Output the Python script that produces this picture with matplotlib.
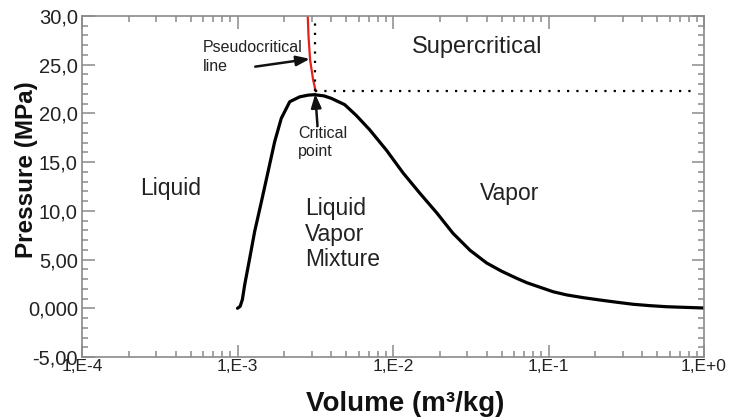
import matplotlib
matplotlib.use("Agg")
import matplotlib.pyplot as plt
from matplotlib.ticker import FixedLocator, MultipleLocator, LogLocator, NullFormatter

plt.rcParams['font.family'] = ['Liberation Sans', 'DejaVu Sans']

# saturation dome, liquid branch (m3/kg, MPa)
v_liq = [1.00e-3, 1.04e-3, 1.075e-3, 1.112e-3, 1.197e-3, 1.290e-3, 1.423e-3, 1.571e-3,
         1.734e-3, 1.913e-3, 2.167e-3, 2.51e-3, 2.85e-3, 3.13e-3]
p_liq = [0.0, 0.2, 0.9, 2.4, 5.1, 7.9, 10.9, 14.0, 17.1, 19.5, 21.2, 21.7, 21.88, 21.92]
# vapor branch
v_vap = [3.13e-3, 3.6e-3, 4.01e-3, 4.89e-3, 5.80e-3, 7.1e-3, 9.1e-3, 0.0116, 0.0149,
         0.0191, 0.0243, 0.0313, 0.040, 0.050, 0.0624, 0.0724, 0.0882, 0.107, 0.131,
         0.1675, 0.214, 0.275, 0.351, 0.449, 0.575, 0.737, 1.0]
p_vap = [21.92, 21.8, 21.55, 20.9, 19.8, 18.3, 16.2, 13.9, 11.8, 9.8, 7.7, 5.95,
         4.65, 3.8, 3.08, 2.63, 2.16, 1.70, 1.37, 1.09, 0.85, 0.62, 0.41, 0.27,
         0.16, 0.10, 0.03]
# pseudocritical line
v_pc = [3.18e-3, 3.06e-3, 2.93e-3, 2.86e-3, 2.83e-3]
p_pc = [22.3, 23.5, 25.5, 28.0, 30.0]
# dotted guide lines
v_hline = [3.16e-3, 0.875]
p_hline = [22.3, 22.3]
v_vline = [3.16e-3, 3.16e-3]
p_vline = [22.3, 29.5]

x_ticks = [1e-4, 1e-3, 1e-2, 1e-1, 1e0]
x_labels = ["1,E-4", "1,E-3", "1,E-2", "1,E-1", "1,E+0"]
y_ticks = [-5, 0, 5, 10, 15, 20, 25, 30]
y_labels = ["-5,00", "0,000", "5,00", "10,0", "15,0", "20,0", "25,0", "30,0"]

fig = plt.figure(figsize=(7.31, 4.18), dpi=100)
ax = fig.add_axes([82/731, 1-357/418, (704-82)/731, (357-16)/418])

ax.plot(v_liq, p_liq, color='black', lw=2.3, solid_capstyle='round', solid_joinstyle='round')
ax.plot(v_vap, p_vap, color='black', lw=2.3, solid_capstyle='round', solid_joinstyle='round')
ax.plot(v_pc, p_pc, color='#e8201c', lw=1.6)
ax.plot(v_hline, p_hline, color='black', lw=1.6, linestyle=(0, (1, 3.2)))
ax.plot(v_vline, p_vline, color='black', lw=1.6, linestyle=(0, (1, 3.2)))

ax.set_xscale('log')
ax.set_xlim(1e-4, 1e0)
ax.set_ylim(-5, 30)
ax.xaxis.set_major_locator(FixedLocator(x_ticks))
ax.set_xticklabels(x_labels)
ax.xaxis.set_minor_locator(LogLocator(base=10, subs=range(2, 10)))
ax.xaxis.set_minor_formatter(NullFormatter())
ax.yaxis.set_major_locator(FixedLocator(y_ticks))
ax.set_yticklabels(y_labels)
ax.yaxis.set_minor_locator(MultipleLocator(1))

spine_c = '#8a8a8a'
for s in ax.spines.values():
    s.set_color(spine_c)
    s.set_linewidth(1.2)
ax.tick_params(which='both', direction='in', top=True, right=True, color=spine_c, width=1.1)
ax.tick_params(which='major', length=9)
ax.tick_params(which='minor', length=4.5)
ax.tick_params(axis='x', which='major', labelsize=12.5, pad=1.5, labelcolor='#222222')
ax.tick_params(axis='y', which='major', labelsize=14.5, pad=3, labelcolor='#222222')

fig.text(405/731, 1-404/418, "Volume (m³/kg)", fontsize=20, fontweight='bold',
         ha='center', va='center', color='#111111')
fig.text(27/731, 1-170/418, "Pressure (MPa)", fontsize=17.5, fontweight='bold',
         ha='center', va='center', rotation=90, color='#111111')

tc = '#222222'
ax.text(3.5e-2, 26.8, "Supercritical", fontsize=17, ha='center', va='center', color=tc)
ax.text(3.63e-2, 11.8, "Vapor", fontsize=16.5, ha='left', va='center', color=tc)
ax.text(2.36e-4, 12.3, "Liquid", fontsize=16.5, ha='left', va='center', color=tc)
ax.text(2.72e-3, 7.6, "Liquid\nVapor\nMixture", fontsize=16.5, ha='left', va='center',
        color=tc, linespacing=1.15)
ax.text(6.0e-4, 25.8, "Pseudocritical\nline", fontsize=11.5, ha='left', va='center',
        color=tc, linespacing=1.35)
ax.text(2.45e-3, 17.0, "Critical\npoint", fontsize=11.5, ha='left', va='center',
        color=tc, linespacing=1.2)

ax.annotate("", xy=(2.92e-3, 25.6), xytext=(1.30e-3, 24.8),
            arrowprops=dict(arrowstyle='-|>,head_length=0.8,head_width=0.3',
                            color='#111111', lw=1.8, shrinkA=0, shrinkB=0))
ax.annotate("", xy=(3.16e-3, 22.0), xytext=(3.27e-3, 18.7),
            arrowprops=dict(arrowstyle='-|>,head_length=0.8,head_width=0.3',
                            color='#111111', lw=1.8, shrinkA=0, shrinkB=0))

fig.savefig("out.png", dpi=100)
